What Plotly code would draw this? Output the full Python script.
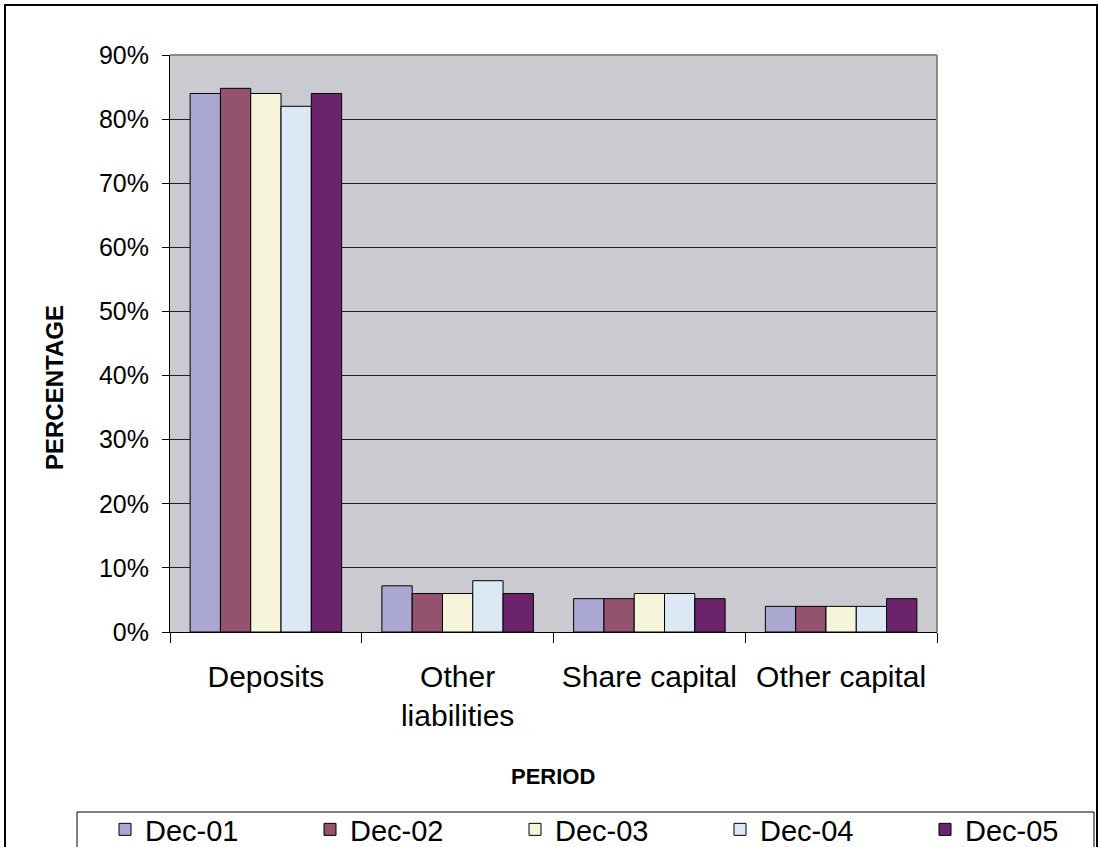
import plotly.graph_objects as go

# Liability structure by category, one series per period
categories = ["Deposits", "Other<br>liabilities", "Share capital", "Other capital"]
periods = ["Dec-01", "Dec-02", "Dec-03", "Dec-04", "Dec-05"]
dec01 = [0.84, 0.072, 0.052, 0.04]
dec02 = [0.848, 0.06, 0.052, 0.04]
dec03 = [0.84, 0.06, 0.06, 0.04]
dec04 = [0.82, 0.08, 0.06, 0.04]
dec05 = [0.84, 0.06, 0.052, 0.052]
series = [dec01, dec02, dec03, dec04, dec05]
colors = ["#AAA8D0", "#93536F", "#F6F5DA", "#DCE8F4", "#6B246C"]
y_ticks = [0, 0.1, 0.2, 0.3, 0.4, 0.5, 0.6, 0.7, 0.8, 0.9]

W, H = 1099, 847
L, R, T, B = 170, 937, 55, 632


def px(x):
    return (x - L) / (R - L)


def py(y):
    return (B - y) / (B - T)


FONT = "Liberation Sans, Arial, sans-serif"
LEG_X0 = 105      # left edge of the first legend entry (px)
ENTRY_STEP = 205  # spacing between legend entries (px)

fig = go.Figure()
for i, (name, vals, col) in enumerate(zip(periods, series, colors)):
    # the last entry sits in its own legend so the row does not wrap
    fig.add_trace(go.Bar(
        x=categories, y=vals, name=name,
        marker=dict(color=col, line=dict(color="black", width=1)),
        legend="legend2" if i == len(periods) - 1 else "legend",
    ))

legend_common = dict(
    orientation="h",
    yanchor="top", xanchor="left",
    font=dict(size=29, family=FONT),
    entrywidth=ENTRY_STEP - 45,
    bgcolor="rgba(0,0,0,0)",
    borderwidth=0,
    traceorder="normal",
)

fig.update_layout(
    width=W, height=H,
    margin=dict(l=L, r=W - R, t=T, b=H - B, autoexpand=False),
    paper_bgcolor="white",
    plot_bgcolor="#CBCAD0",
    barmode="group",
    bargap=0.21,
    bargroupgap=0,
    font=dict(family=FONT, color="black"),
    showlegend=True,
    legend=dict(legend_common, x=px(LEG_X0), y=py(804)),
    legend2=dict(legend_common, x=px(LEG_X0 + 4 * ENTRY_STEP), y=py(804)),
)

fig.update_xaxes(
    showline=True, linecolor="black", linewidth=1,
    ticks="outside", ticklen=10, tickcolor="black",
    tickson="boundaries",
    tickfont=dict(size=30, family=FONT),
    ticklabelstandoff=18,
    showgrid=False,
)
fig.update_yaxes(
    range=[0, 0.9],
    tickvals=y_ticks, tickformat=".0%",
    showline=True, linecolor="black", linewidth=1,
    ticks="outside", ticklen=7, tickcolor="black",
    tickfont=dict(size=25, family=FONT),
    showgrid=True, gridcolor="#222222", gridwidth=1,
    zeroline=False,
    ticklabelstandoff=8,
)

# Axis titles
fig.add_annotation(
    text="<b>PERCENTAGE</b>", textangle=-90,
    x=px(54), y=py(387), xref="paper", yref="paper",
    xanchor="center", yanchor="middle",
    showarrow=False, font=dict(size=24, family=FONT),
)
fig.add_annotation(
    text="<b>PERIOD</b>",
    x=px(553), y=py(776), xref="paper", yref="paper",
    xanchor="center", yanchor="middle",
    showarrow=False, font=dict(size=22, family=FONT),
)

shapes = [
    # grey frame on the top and right of the plot area
    dict(type="line", xref="paper", yref="paper", x0=0, x1=1, y0=1, y1=1,
         line=dict(color="#8A8A8A", width=2)),
    dict(type="line", xref="paper", yref="paper", x0=1, x1=1, y0=0, y1=1,
         line=dict(color="#8A8A8A", width=2)),
    # outer chart frame
    dict(type="rect", xref="paper", yref="paper",
         x0=px(5), x1=px(1097), y0=py(5), y1=py(870),
         line=dict(color="black", width=2), fillcolor="rgba(0,0,0,0)"),
    # legend frame
    dict(type="rect", xref="paper", yref="paper",
         x0=px(77), x1=px(1094), y0=py(812), y1=py(870),
         line=dict(color="black", width=1), fillcolor="rgba(0,0,0,0)"),
]
fig.update_layout(shapes=shapes)

fig.write_html("out.html")
